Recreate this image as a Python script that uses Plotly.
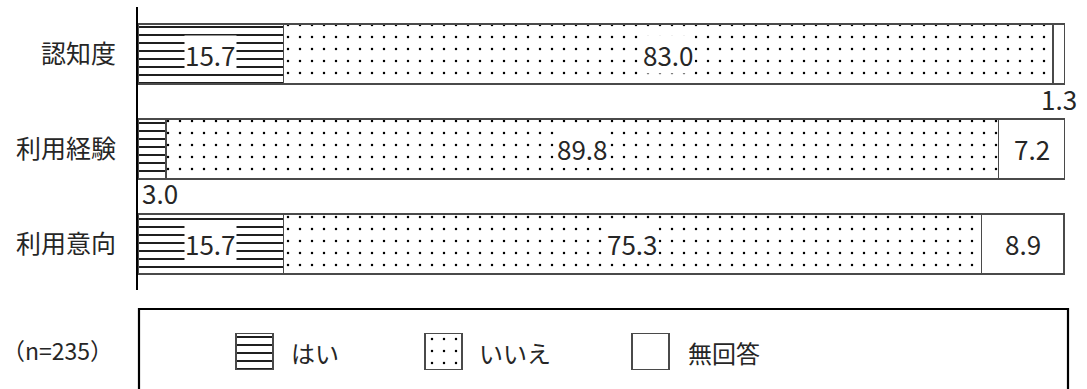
import plotly.graph_objects as go

categories = ["認知度", "利用経験", "利用意向"]
series_names = ["はい", "いいえ", "無回答"]
yes_vals = [15.7, 3.0, 15.7]
no_vals = [83.0, 89.8, 75.3]
na_vals = [1.3, 7.2, 8.9]
sample_note = "（n=235）"

series_vals = [yes_vals, no_vals, na_vals]

W, H = 1087, 389
ML, MR, MT, MB = 138, 22, 7, 0
PW = W - ML - MR
PH = H - MT - MB

def px_to_py(py):
    return (H - py) / PH

def px_to_px(px):
    return (px - ML) / PW

FONT = "Noto Sans CJK JP"
TXT = "#262626"
EDGE = "#4a4a4a"

styles = [
    dict(shape="-", size=8, solidity=0.22),
    dict(shape=".", size=12, solidity=0.035),
    dict(shape="", size=8, solidity=0.2),
]

fig = go.Figure()
for name, vals, st in zip(series_names, series_vals, styles):
    fig.add_trace(go.Bar(
        y=categories, x=vals, orientation="h", name=name, width=0.63,
        marker=dict(color="white",
                    line=dict(color=EDGE, width=1.4),
                    pattern=dict(shape=st["shape"], size=st["size"], solidity=st["solidity"],
                                 fgcolor="black", bgcolor="white", fillmode="replace")),
        showlegend=False, hoverinfo="skip",
    ))

NUM_SIZE = 26
# value labels
for i, cat in enumerate(categories):
    cum = 0.0
    for s, vals in enumerate(series_vals):
        v = vals[i]
        mid = cum + v / 2
        cum += v
        label = f"{v:.1f}"
        if v < 5:
            if s == 0:
                fig.add_annotation(x=0, y=cat, xref="x", yref="y", text=label, showarrow=False,
                                   xanchor="left", xshift=2, yshift=-44,
                                   font=dict(family=FONT, size=NUM_SIZE, color=TXT))
            else:
                fig.add_annotation(x=mid, y=cat, xref="x", yref="y", text=label, showarrow=False,
                                   xanchor="center", yshift=-44,
                                   font=dict(family=FONT, size=NUM_SIZE, color=TXT))
        else:
            fig.add_annotation(x=mid, y=cat, xref="x", yref="y", text=label, showarrow=False,
                               xanchor="center", bgcolor="white", borderpad=0,
                               font=dict(family=FONT, size=NUM_SIZE, color=TXT))

# legend swatches on a helper axis measured in pixels
swatch_centers = [254.5, 443.5, 650.5]
label_lefts = [289, 477, 686]
for name, st, cx in zip(series_names, styles, swatch_centers):
    fig.add_trace(go.Bar(
        x=[cx], y=[1], width=[37], xaxis="x2", yaxis="y2",
        marker=dict(color="white",
                    line=dict(color=EDGE, width=1.4),
                    pattern=dict(shape=st["shape"], size=st["size"],
                                 solidity=st["solidity"],
                                 fgcolor="black", bgcolor="white", fillmode="replace")),
        showlegend=False, hoverinfo="skip",
    ))
for name, lx in zip(series_names, label_lefts):
    fig.add_annotation(x=px_to_px(lx), y=px_to_py(352), xref="paper", yref="paper", text=name,
                       showarrow=False, xanchor="left", yanchor="middle",
                       font=dict(family=FONT, size=24, color=TXT))

fig.add_annotation(x=px_to_px(0), y=px_to_py(350), xref="paper", yref="paper", text=sample_note,
                   showarrow=False, xanchor="left", yanchor="middle",
                   font=dict(family=FONT, size=23, color=TXT))

# legend frame
fig.add_shape(type="rect", xref="paper", yref="paper",
              x0=px_to_px(139), x1=px_to_px(1068), y0=px_to_py(309), y1=px_to_py(400),
              line=dict(color="black", width=2.2), fillcolor="rgba(0,0,0,0)", layer="above")

fig.update_layout(
    width=W, height=H,
    margin=dict(l=ML, r=MR, t=MT, b=MB),
    barmode="stack",
    plot_bgcolor="white", paper_bgcolor="white",
    xaxis=dict(range=[0, 100], visible=False, fixedrange=True),
    yaxis=dict(type="category", range=[2.485, -0.495], domain=[px_to_py(290), 1],
               showline=True, linecolor="black", linewidth=2, showgrid=False, zeroline=False,
               ticks="outside", ticklen=15, tickcolor="rgba(0,0,0,0)",
               tickfont=dict(family=FONT, size=25, color=TXT)),
    xaxis2=dict(domain=[0, 1], range=[ML, W - MR], visible=False, anchor="y2", fixedrange=True),
    yaxis2=dict(domain=[px_to_py(370), px_to_py(333)], range=[0, 1], visible=False, anchor="x2"),
    showlegend=False,
)

fig.write_html("out.html", config={"displayModeBar": False},
               post_script="document.body.style.margin='0';document.body.style.overflow='hidden';")
